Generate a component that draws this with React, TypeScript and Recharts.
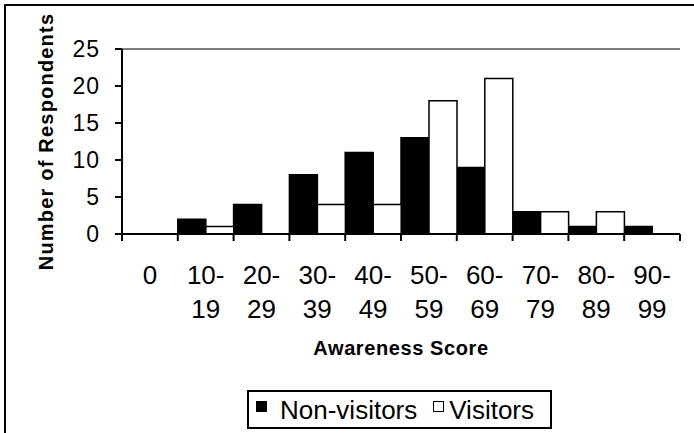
import React from 'react';
import { BarChart, Bar, XAxis, YAxis, ReferenceLine, Legend } from 'recharts';

// Score bands on the x axis
const scoreBands = ['0', '10-19', '20-29', '30-39', '40-49', '50-59', '60-69', '70-79', '80-89', '90-99'];
// Respondent counts per band
const nonVisitors = [0, 2, 4, 8, 11, 13, 9, 3, 1, 1];
const visitors = [0, 1, 0, 4, 4, 18, 21, 3, 3, 0];
// Value axis ticks
const countTicks = [0, 5, 10, 15, 20, 25];

const data = scoreBands.map((band, i) => ({
  band,
  nonVisitors: nonVisitors[i],
  visitors: visitors[i],
}));

const FONT = '"Liberation Sans", Arial, Helvetica, sans-serif';

// Splits "10-19" into "10-" / "19" so each band label wraps onto two lines.
function splitBand(label: string): [string, string] {
  const k = label.indexOf('-');
  if (k < 0) return [label, ''];
  return [label.slice(0, k + 1), label.slice(k + 1)];
}

// Category label plus tick marks on the band boundaries rather than the centres.
function BandTick(props: any) {
  const { x, y, payload, index, visibleTicksCount, width } = props;
  const half =
    typeof payload?.offset === 'number' && payload.offset > 0
      ? payload.offset
      : width / visibleTicksCount / 2;
  const [top, bottom] = splitBand(String(payload.value));
  return (
    <g>
      <line x1={x - half} x2={x - half} y1={y} y2={y + 7} stroke="#000" strokeWidth={2} />
      {index === visibleTicksCount - 1 && (
        <line x1={x + half} x2={x + half} y1={y} y2={y + 7} stroke="#000" strokeWidth={2} />
      )}
      <text x={x} y={y + 50} textAnchor="middle" fontFamily={FONT} fontSize={26} fill="#000">
        {top}
      </text>
      {bottom && (
        <text x={x} y={y + 83.5} textAnchor="middle" fontFamily={FONT} fontSize={26} fill="#000">
          {bottom}
        </text>
      )}
    </g>
  );
}

function CountTitle(props: any) {
  const vb = props.viewBox || {};
  const cx = vb.x - 7;
  const cy = vb.y + vb.height / 2;
  return (
    <text
      x={cx}
      y={cy}
      transform={`rotate(-90, ${cx}, ${cy})`}
      textAnchor="middle"
      fontFamily={FONT}
      fontWeight="bold"
      fontSize={20}
      letterSpacing={1.2}
      fill="#000"
    >
      Number of Respondents
    </text>
  );
}

function ScoreTitle(props: any) {
  const vb = props.viewBox || {};
  return (
    <text
      x={vb.x + vb.width / 2}
      y={vb.y + 121}
      textAnchor="middle"
      fontFamily={FONT}
      fontWeight="bold"
      fontSize={20}
      letterSpacing={0.6}
      fill="#000"
    >
      Awareness Score
    </text>
  );
}

function LegendBox(props: any) {
  const payload = props.payload || [];
  return (
    <div
      style={{
        boxSizing: 'border-box',
        width: 305,
        height: 39,
        border: '2px solid #000',
        background: '#fff',
        display: 'flex',
        alignItems: 'center',
        paddingLeft: 7,
        fontFamily: FONT,
        fontSize: 26,
        color: '#000',
      }}
    >
      {payload.map((p: any, i: number) => (
        <span
          key={p.value}
          style={{ display: 'flex', alignItems: 'center', marginRight: i === 0 ? 16 : 0 }}
        >
          <span
            style={{
              display: 'inline-block',
              boxSizing: 'border-box',
              width: 11,
              height: 11,
              border: '1.5px solid #000',
              background: p.color,
              marginRight: i === 0 ? 13 : 5,
              position: 'relative',
              top: -3,
            }}
          />
          <span style={{ lineHeight: 1 }}>{p.value}</span>
        </span>
      ))}
    </div>
  );
}

export default function App() {
  return (
    <div style={{ position: 'absolute', left: 0, top: 0, width: 694, height: 433, background: '#fff' }}>
      <div
        style={{
          position: 'absolute',
          left: 4,
          top: 4,
          width: 690,
          height: 429,
          boxSizing: 'border-box',
          borderTop: '2.5px solid #000',
          borderLeft: '2.5px solid #000',
        }}
      />
      <BarChart
        width={694}
        height={433}
        data={data}
        margin={{ top: 49, right: 14, bottom: 99, left: 60 }}
        barCategoryGap={0}
        barGap={0}
      >
        <XAxis
          dataKey="band"
          height={100}
          interval={0}
          tickLine={false}
          tickSize={0}
          tickMargin={0}
          axisLine={{ stroke: '#000', strokeWidth: 2 }}
          tick={<BandTick />}
          label={<ScoreTitle />}
        />
        <YAxis
          yAxisId="l"
          width={62}
          domain={[0, 25]}
          ticks={countTicks}
          interval={0}
          tickSize={7}
          tickMargin={15}
          axisLine={{ stroke: '#000', strokeWidth: 2 }}
          tickLine={{ stroke: '#000', strokeWidth: 2 }}
          tick={{ fill: '#000', fontSize: 23, fontFamily: FONT, letterSpacing: 1 }}
          label={<CountTitle />}
        />
        <YAxis
          yAxisId="r"
          orientation="right"
          width={0}
          domain={[0, 25]}
          tick={false}
          tickLine={false}
          axisLine={{ stroke: '#808080', strokeWidth: 2 }}
        />
        <ReferenceLine yAxisId="l" y={25} stroke="#808080" strokeWidth={2} />
        <Legend
          layout="horizontal"
          verticalAlign="middle"
          align="center"
          wrapperStyle={{ left: 247, top: 390, width: 305, height: 39 }}
          content={<LegendBox />}
        />
        <Bar
          yAxisId="l"
          dataKey="nonVisitors"
          name="Non-visitors"
          fill="#000"
          stroke="#000"
          strokeWidth={1.5}
          isAnimationActive={false}
        />
        <Bar
          yAxisId="l"
          dataKey="visitors"
          name="Visitors"
          fill="#fff"
          stroke="#000"
          strokeWidth={1.5}
          isAnimationActive={false}
        />
      </BarChart>
    </div>
  );
}
